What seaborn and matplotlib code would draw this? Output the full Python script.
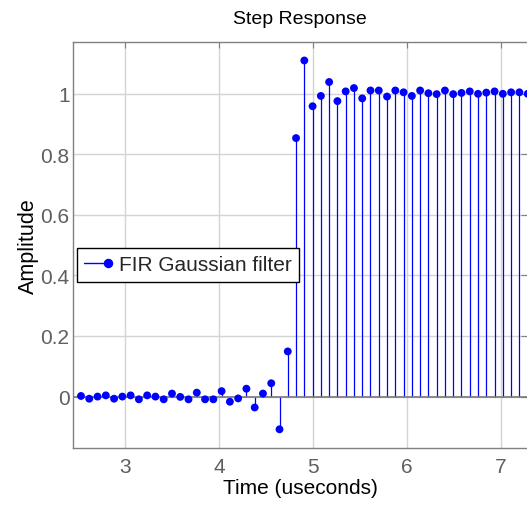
import numpy as np
import pandas as pd
import matplotlib
matplotlib.use("Agg")
import matplotlib.pyplot as plt
from matplotlib.lines import Line2D
from matplotlib.legend_handler import HandlerBase
import seaborn as sns

# Step response of the FIR Gaussian filter (amplitude per sample)
amplitude = [
    0.002, -0.007, 0.000, 0.004, -0.007, 0.000, 0.004, -0.009, 0.004, 0.000,
    -0.009, 0.010, -0.001, -0.009, 0.013, -0.009, -0.009, 0.018, -0.017, -0.006,
    0.026, -0.036, 0.010, 0.044, -0.108, 0.149, 0.853, 1.109, 0.958, 0.992,
    1.038, 0.975, 1.007, 1.018, 0.984, 1.010, 1.010, 0.990, 1.010, 1.004,
    0.992, 1.010, 1.001, 0.998, 1.010, 0.998, 1.002, 1.007, 0.999, 1.003,
    1.007, 0.999, 1.004, 1.004, 0.999,
]
t_start_us = 2.532
sample_period_us = 0.088
x_ticks = [3, 4, 5, 6, 7]
y_ticks = [0, 0.2, 0.4, 0.6, 0.8, 1]
y_tick_labels = ["0", "0.2", "0.4", "0.6", "0.8", "1"]

time_us = t_start_us + sample_period_us * np.arange(len(amplitude))
df = pd.DataFrame({"time": time_us, "amp": amplitude})

sns.set_theme(style="whitegrid")
plt.rcParams["font.family"] = ["Liberation Sans", "DejaVu Sans"]

W, H = 527, 506
fig = plt.figure(figsize=(W / 100, H / 100), dpi=100)
left, right, top, bottom = 73, 527, 43.3, 448.5
ax = fig.add_axes([left / W, 1 - bottom / H, (right - left) / W, (bottom - top) / H])

blue = "#0000ff"
ax.vlines(df["time"], 0, df["amp"], color=blue, lw=0.9, zorder=2)
ax.axhline(0, color="#7a7a7a", lw=1.2, zorder=2.5)
sns.scatterplot(data=df, x="time", y="amp", ax=ax, color=blue, s=32,
                edgecolor="none", linewidth=0, zorder=3, legend=False)

ax.set_xlim(2.447, 7.277)
ax.set_ylim(-0.168, 1.169)
ax.set_xticks(x_ticks)
ax.set_yticks(y_ticks)
ax.set_yticklabels(y_tick_labels)

ax.set_facecolor("white")
ax.grid(True, color="#d4d4d4", lw=1.0)
ax.set_axisbelow(True)
for name, sp in ax.spines.items():
    sp.set_color("#808080")
    sp.set_linewidth(1.0)
ax.spines["right"].set_visible(False)
ax.tick_params(axis="both", direction="in", length=4, width=0.8, color="#808080",
               labelsize=15, labelcolor="#5f5f5f", top=True, right=True)
ax.tick_params(axis="y", pad=2.5)
ax.tick_params(axis="x", pad=7)

ax.set_title("Step Response", fontsize=14, color="black", pad=14)
ax.set_xlabel("Time (useconds)", fontsize=15, color="black", labelpad=1)
ax.set_ylabel("Amplitude", fontsize=15.5, color="black", labelpad=1)


class StemKeyHandler(HandlerBase):
    def create_artists(self, legend, orig_handle, xdescent, ydescent,
                       width, height, fontsize, trans):
        y = height / 2 - ydescent
        line = Line2D([-xdescent, width - xdescent], [y, y], color=blue, lw=1.0,
                      transform=trans)
        dot = Line2D([width - xdescent], [y], marker="o", markersize=5.8,
                     color=blue, linestyle="none", transform=trans)
        return [line, dot]


key = Line2D([], [], color=blue)
leg = ax.legend([key], ["FIR Gaussian filter"], handler_map={Line2D: StemKeyHandler()},
                loc="upper left", bbox_to_anchor=(77 / W, 1 - 249 / H),
                bbox_transform=fig.transFigure, borderaxespad=0, fontsize=15,
                frameon=True, fancybox=False, framealpha=1, edgecolor="black",
                borderpad=0.35, handlelength=1.15, handletextpad=0.5)
leg.get_frame().set_linewidth(1.0)
leg.set_zorder(5)

fig.savefig("out.png", dpi=100)
